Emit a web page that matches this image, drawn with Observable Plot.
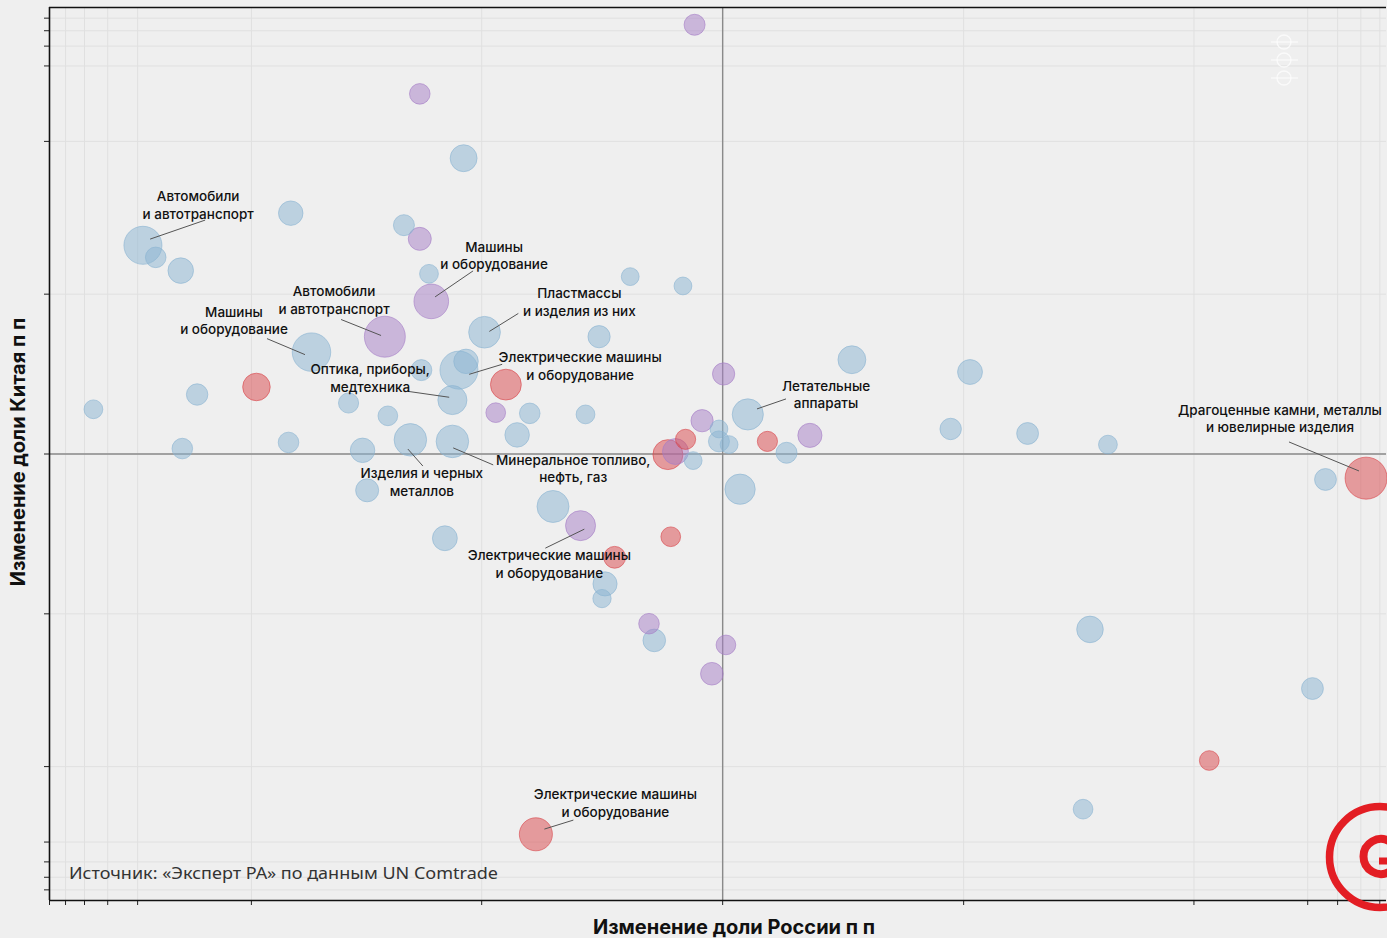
<!DOCTYPE html>
<html><head><meta charset="utf-8">
<script src="https://cdn.jsdelivr.net/npm/d3@7"></script>
<script src="https://cdn.jsdelivr.net/npm/@observablehq/plot@0.6"></script>
<style>
html,body{margin:0;padding:0;background:#efefef;}
#chart svg{display:block;}
</style></head><body><div id="chart"></div>
<script>
// Изменение доли России, п.п.
const rusChange = [-0.034,-1.90,-1.21,-6.82,-2.23,-1.90,-1.73,-1.69,-0.157,-0.051,
  -28.5,-25.2,-19.8,-2.70,-5.57,-0.97,-0.25,-9.52,-16.9,-45.9,
  -3.87,-1.87,-1.27,-1.18,-1.36,-0.77,-0.86,-0.59,-0.30,-2.62,
  -0.68,-2.09,-1.36,-3.37,-6.97,-19.5,-3.22,0.001,0.27,1.07,
  0.030,-0.024,-0.004,-0.004,0.007,-0.047,-0.076,-0.063,-0.036,0.059,
  0.144,0.093,0.020,0.87,1.94,4.32,35.6,52.6,-0.45,-0.32,
  -1.47,-0.071,-0.20,-0.23,-0.24,-0.113,-0.102,0.0035,-0.012,3.62,
  31.4,11.6,3.38,-0.55];
// Изменение доли Китая, п.п.
const chinaChange = [54.5,20.0,7.82,3.47,2.90,2.36,1.38,0.89,1.32,1.14,
  2.14,1.78,1.45,0.49,0.37,0.53,0.49,0.18,0.15,0.10,
  0.12,0.26,0.26,0.31,0.13,0.19,0.09,0.088,0.085,0.081,
  0.035,0.025,0.022,0.006,0.020,0.009,-0.076,0.24,0.32,0.25,
  0.085,0.068,0.048,0.022,0.016,0.026,-0.001,0.004,-0.011,0.022,
  0.034,0.002,-0.073,0.048,0.038,0.016,-0.049,-0.046,-0.125,-0.20,
  -0.262,-0.254,-0.38,-0.61,-0.78,-1.17,-1.52,-1.63,-2.53,-1.28,
  -3.16,-9.15,-18.6,-26.8];
// Объём торговли (условные единицы, площадь пузыря)
const tradeVolume = [25,24,41,34,25,30,20,68,18,18,
  82,24,37,95,84,57,28,43,26,20,
  23,25,82,34,48,54,22,24,20,22,
  34,60,60,34,24,24,30,28,44,35,
  55,28,18,25,18,23,51,38,18,23,
  33,25,52,26,27,20,27,100,58,51,
  35,22,27,33,19,24,29,22,29,40,
  27,22,22,62];
const groupOf = ["b","b","a","a","a","b","a","b","a","a",
  "a","a","a","b","a","a","a","c","a","a",
  "a","a","a","a","a","c","b","a","a","a",
  "a","a","a","a","a","a","a","b","a","a",
  "a","b","a","a","a","c","c","b","a","c",
  "b","a","a","a","a","a","a","c","a","b",
  "a","c","c","a","a","b","a","b","b","a",
  "a","c","a","c"];
const groupKeys = ["a","b","c"];
const groupColors = ["#8ab4d2","#a57dc6","#d9454a"];

const xTicks = [-70,-60,-50,-40,-30,-10,-1,0,1,10,30,40,50,60];
const yTicks = [-60,-50,-40,-30,-10,-1,0,1,10,30,40,50,60];

const labelIndex = [10,7,13,14,15,22,24,31,32,59,73,40,57];
const labelText = [
  ["Автомобили","и автотранспорт"],
  ["Машины","и оборудование"],
  ["Автомобили","и автотранспорт"],
  ["Машины","и оборудование"],
  ["Пластмассы","и изделия из них"],
  ["Электрические машины","и оборудование"],
  ["Оптика, приборы,","медтехника"],
  ["Изделия и черных","металлов"],
  ["Минеральное топливо,","нефть, газ"],
  ["Электрические машины","и оборудование"],
  ["Электрические машины","и оборудование"],
  ["Летательные","аппараты"],
  ["Драгоценные камни, металлы","и ювелирные изделия"]
];
// layout offsets (pixels, relative to bubble centre): text centre, leader start, leader end
const labelLayout = [
  [55.7,-48.7, 7.7,-5.7,62.7,-24.7],
  [63.3,-54, 4.3,-4,42.3,-30],
  [-50.3,-44.7, -43.3,-16.7,-3.3,-0.7],
  [-77,-40, -44,-13,-6,3],
  [95.3,-38.3, 5.3,-0.3,34.3,-18.3],
  [121.7,-12.3, 10.7,4.7,43.7,-5.3],
  [-81.7,-30.3, -44.7,-8.3,-2.7,-2.3],
  [12,33.7, -2,9.7,13,26.7],
  [121.3,19, 1.3,7,41.3,24],
  [-30.7,30, -34.7,23,4.3,4],
  [80,-39.7, 9,-4.7,38,-13.7],
  [78.7,-28, 9.7,-5,38.7,-15],
  [-85.6,-67.7, -76.6,-35.7,-6.6,-6.7]
];

const data = rusChange.map((x, i) => ({x, y: chinaChange[i], v: tradeVolume[i], g: groupOf[i]}));

const W = 1387, H = 938;
const chart = Plot.plot({
  width: W, height: H,
  marginLeft: 49, marginRight: 1, marginTop: 7, marginBottom: 38,
  style: {background: "#efefef", color: "#222", fontFamily: "Inter, sans-serif"},
  x: {type: "symlog", constant: 0.11, domain: [-70, 64], ticks: xTicks, tickSize: 5, tickFormat: () => "", label: null},
  y: {type: "symlog", constant: 0.11, domain: [-70, 70], ticks: yTicks, tickSize: 5, tickFormat: () => "", label: null},
  r: {domain: [0, 100], range: [0, 21]},
  color: {domain: groupKeys, range: groupColors},
  marks: [
    Plot.ruleX(xTicks, {stroke: "#e0e0e0", strokeWidth: 1}),
    Plot.ruleY(yTicks, {stroke: "#e0e0e0", strokeWidth: 1}),
    Plot.ruleX([0], {stroke: "#8a8a8a", strokeWidth: 1.4}),
    Plot.ruleY([0], {stroke: "#8a8a8a", strokeWidth: 1.4}),
    Plot.dot(data, {x: "x", y: "y", r: "v", fill: "g", stroke: "g", fillOpacity: 0.5, strokeOpacity: 0.6, strokeWidth: 1}),
    Plot.ruleX([-70], {stroke: "#111", strokeWidth: 1.6}),
    Plot.ruleY([-70], {stroke: "#111", strokeWidth: 1.6}),
    Plot.ruleY([70], {stroke: "#111", strokeWidth: 1.6})
  ]
});
document.getElementById("chart").appendChild(chart);

const svg = d3.select(chart);
const sx = chart.scale("x"), sy = chart.scale("y");
const ann = svg.append("g").attr("font-family", "Inter, sans-serif").attr("font-size", 13.5).attr("font-weight", 500).attr("fill", "#111");
labelIndex.forEach((idx, k) => {
  const L = labelLayout[k];
  const cx = sx.apply(rusChange[idx]), cy = sy.apply(chinaChange[idx]);
  ann.append("line").attr("x1", cx + L[2]).attr("y1", cy + L[3]).attr("x2", cx + L[4]).attr("y2", cy + L[5])
    .attr("stroke", "#555").attr("stroke-width", 1);
  const t = ann.append("text").attr("text-anchor", "middle");
  labelText[k].forEach((s, j) => t.append("tspan").attr("x", cx + L[0]).attr("y", cy + L[1] + 5 + j * 17.5).text(s));
});

// axis titles
svg.append("text").attr("x", 734).attr("y", 934).attr("text-anchor", "middle")
  .attr("font-family", "Inter, sans-serif").attr("font-size", 20).attr("font-weight", 700).attr("fill", "#111")
  .text("Изменение доли России п п");
svg.append("text").attr("transform", "translate(25,452) rotate(-90)").attr("text-anchor", "middle")
  .attr("font-family", "Inter, sans-serif").attr("font-size", 20).attr("font-weight", 700).attr("fill", "#111")
  .text("Изменение доли Китая п п");
// source
svg.append("text").attr("x", 69).attr("y", 879).attr("text-anchor", "start")
  .attr("font-family", "'Noto Sans', sans-serif").attr("font-size", 17).attr("fill", "#333")
  .attr("textLength", 429).attr("lengthAdjust", "spacingAndGlyphs")
  .text("Источник: «Эксперт РА» по данным UN Comtrade");

// watermark
const wm = svg.append("g").attr("stroke", "#fff").attr("stroke-opacity", 0.7).attr("fill", "none").attr("stroke-width", 1.3);
[42, 60, 78].forEach(y => {
  wm.append("circle").attr("cx", 1284).attr("cy", y).attr("r", 7);
  wm.append("line").attr("x1", 1271).attr("x2", 1298).attr("y1", y).attr("y2", y);
});
// logo
const logo = svg.append("g").attr("fill", "none").attr("stroke", "#e31e24");
logo.append("circle").attr("cx", 1380).attr("cy", 857).attr("r", 50.5).attr("stroke-width", 7.5);
const rr = 17.5, lx = 1381, ly = 856.5;
const a0 = -60 * Math.PI / 180, a1 = 60 * Math.PI / 180;
logo.append("path").attr("stroke-width", 8)
  .attr("d", `M${lx + rr * Math.cos(a0)},${ly + rr * Math.sin(a0)} A${rr},${rr} 0 1 0 ${lx + rr * Math.cos(a1)},${ly + rr * Math.sin(a1)}`);
logo.append("rect").attr("x", 1379).attr("y", 857.5).attr("width", 12).attr("height", 7).attr("fill", "#e31e24").attr("stroke", "none");
</script></body></html>
